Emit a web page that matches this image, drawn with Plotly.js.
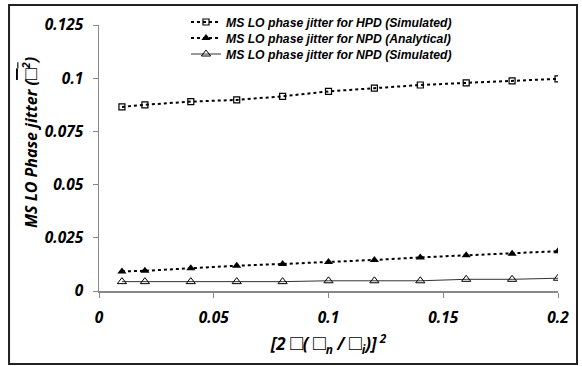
<!DOCTYPE html>
<html><head><meta charset="utf-8">
<script src="https://cdn.plot.ly/plotly-3.0.1.min.js"></script>
<style>body{margin:0;background:#fff}#chart{width:582px;height:366px}</style>
</head><body><div id="chart"></div>
<script>
const xVals = [0.01, 0.02, 0.04, 0.06, 0.08, 0.1, 0.12, 0.14, 0.16, 0.18, 0.2];
const hpdSim = [0.0865, 0.0875, 0.089, 0.0898, 0.0915, 0.0938, 0.0953, 0.0968, 0.0978, 0.0987, 0.0997];
const npdAna = [0.0092, 0.0095, 0.0107, 0.0119, 0.0127, 0.0136, 0.0146, 0.0158, 0.0168, 0.0175, 0.0187];
const npdSim = [0.0044, 0.0044, 0.0044, 0.0044, 0.0044, 0.0048, 0.0048, 0.0048, 0.0055, 0.0055, 0.006];
const names = ["MS LO phase jitter for HPD (Simulated)", "MS LO phase jitter for NPD (Analytical)", "MS LO phase jitter for NPD (Simulated)"];
const xTickVals = [0, 0.05, 0.1, 0.15, 0.2];
const xTickText = ["0", "0.05", "0.1", "0.15", "0.2"];
const yTickVals = [0, 0.025, 0.05, 0.075, 0.1, 0.125];
const yTickText = ["0", "0.025", "0.05", "0.075", "0.1", "0.125"];

const tickFont = {family: "Noto Sans", size: 15.5, color: "#000", weight: 700, style: "italic"};
const titleFont = {family: "Noto Sans", size: 16, color: "#000", weight: 700, style: "italic"};
const xTitleFont = {family: "Noto Sans", size: 17, color: "#000", weight: 700, style: "italic"};
const legFont = {family: "Liberation Sans", size: 12.2, color: "#000", weight: 700, style: "italic"};
const traces = [
  {x: xVals, y: hpdSim, name: names[0], mode: "lines+markers", legend: "legend",
   line: {color: "#000", width: 2, dash: "dot"},
   marker: {symbol: "square-open", size: 6, color: "#000", line: {width: 1.2, color: "#000"}}},
  {x: xVals, y: npdAna, name: names[1], mode: "lines+markers", legend: "legend2",
   line: {color: "#000", width: 2, dash: "dot"},
   marker: {symbol: "triangle-up", size: 8, color: "#000"}},
  {x: xVals, y: npdSim, name: names[2], mode: "lines+markers", legend: "legend3",
   line: {color: "#333", width: 1},
   marker: {symbol: "triangle-up-open", size: 8, color: "#000", line: {width: 1}}}
];
function leg(yPx) {
  return {x: (186 - 99) / 459, y: (291 - yPx) / 266, xanchor: "left", yanchor: "middle",
    bgcolor: "rgba(0,0,0,0)", font: legFont, borderwidth: 0, itemwidth: 30};
}
const box = "<span style=\"font-size:19px\">□</span>";
const xbox = "<span style=\"font-size:21px\">□</span>";
const yTitle = "MS LO Phase jitter (<span style=\"text-decoration:overline\">" + box + "<sup>2</sup></span>)";
const layout = {
  width: 582, height: 366,
  margin: {l: 99, r: 24, t: 25, b: 75, autoexpand: false},
  paper_bgcolor: "#fff", plot_bgcolor: "#fff",
  showlegend: true,
  legend: leg(22), legend2: leg(38), legend3: leg(54),
  xaxis: {range: [0, 0.2], tickvals: xTickVals, ticktext: xTickText, showgrid: false, zeroline: false,
    showline: true, linecolor: "#888", linewidth: 1.5, ticks: "outside", ticklen: 5, tickcolor: "#888",
    tickfont: tickFont, ticklabelstandoff: 7,
    title: {text: "[2 " + xbox + "( " + xbox + "<sub>n</sub> / " + xbox + "<sub>i</sub>)]<sup> 2</sup>", standoff: 9, font: xTitleFont}},
  yaxis: {range: [0, 0.125], tickvals: yTickVals, ticktext: yTickText, showgrid: false, zeroline: false,
    showline: true, linecolor: "#888", linewidth: 1.5, ticks: "outside", ticklen: 5, tickcolor: "#888",
    tickfont: tickFont, ticklabelstandoff: 6},
  annotations: [{text: yTitle, textangle: -90, xref: "paper", yref: "paper",
    x: (30 - 99) / 459, y: (291 - 143) / 266, xanchor: "center", yanchor: "middle",
    showarrow: false, font: titleFont}],
  shapes: [{type: "rect", xref: "paper", yref: "paper", x0: -0.196, x1: 1.0414, y0: -0.274, y1: 1.075,
    line: {color: "#222", width: 2}, fillcolor: "rgba(0,0,0,0)", layer: "below"}]
};
Plotly.newPlot("chart", traces, layout, {displayModeBar: false, staticPlot: true});
</script></body></html>
